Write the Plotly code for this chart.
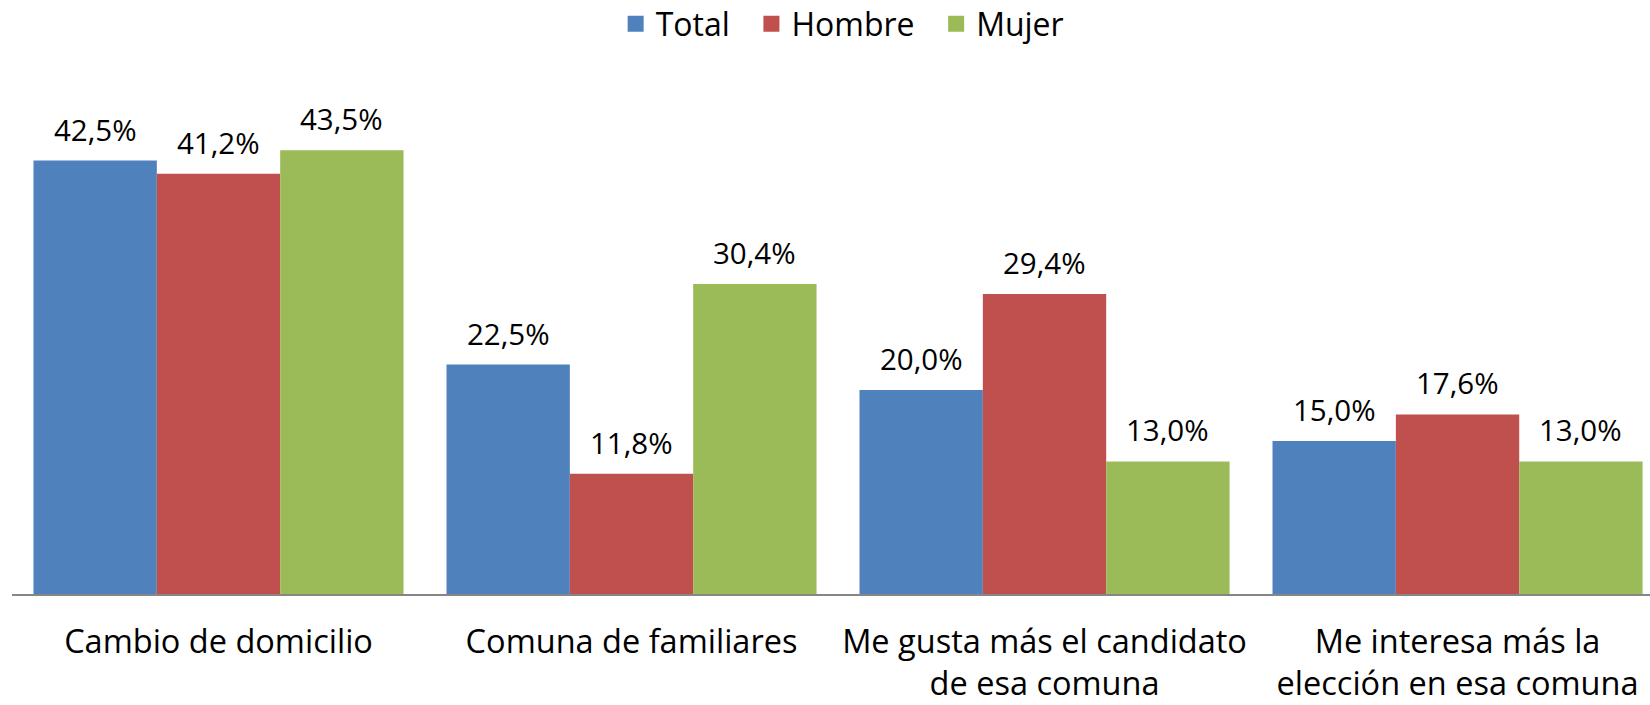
import plotly.graph_objects as go

categories = ["Cambio de domicilio", "Comuna de familiares",
              "Me gusta más el candidato<br>de esa comuna",
              "Me interesa más la<br>elección en esa comuna"]
series_names = ["Total", "Hombre", "Mujer"]
total = [42.5, 22.5, 20.0, 15.0]
hombre = [41.2, 11.8, 29.4, 17.6]
mujer = [43.5, 30.4, 13.0, 13.0]
colors = ["#4F81BD", "#C0504D", "#9BBB59"]

values = [total, hombre, mujer]
FONT = "Open Sans"
bargap = 0.104
bw = (1 - bargap) / 3

fig = go.Figure()
xs = list(range(len(categories)))
for name, vals, col in zip(series_names, values, colors):
    fig.add_trace(go.Bar(x=xs, y=vals, name=name, marker=dict(color=col, line=dict(width=0)),
                         showlegend=False))
for name, col in zip(series_names, colors):
    fig.add_trace(go.Scatter(x=[None], y=[None], mode="markers", name=name + "\u00a0\u00a0",
                             marker=dict(symbol="square", size=20, color=col)))

annotations = []
for i, vals in enumerate(values):
    off = (i - 1) * bw
    for j, v in enumerate(vals):
        annotations.append(dict(x=j + off, y=v, xref="x", yref="y",
                                text=f"{v:.1f}%".replace(".", ","),
                                showarrow=False, yanchor="bottom", yshift=9,
                                font=dict(family=FONT, size=29.5, color="#000")))

fig.update_layout(
    width=1650, height=705,
    margin=dict(l=12, r=0, t=84, b=111, autoexpand=False),
    paper_bgcolor="white", plot_bgcolor="white",
    barmode="group", bargap=bargap, bargroupgap=0,
    font=dict(family=FONT, color="#000"),
    legend=dict(orientation="h", x=0.512, xanchor="center", y=1.1176, yref="paper",
                yanchor="middle", font=dict(family=FONT, size=32), itemsizing="trace",
                traceorder="normal", itemwidth=30),
    annotations=annotations,
    xaxis=dict(range=[-0.5, 3.466], tickmode="array", tickvals=xs, ticktext=categories,
               showline=True, linecolor="#868686", linewidth=2, showgrid=False,
               ticks="", tickfont=dict(family=FONT, size=32.5, color="#000"),
               ticklabelstandoff=18, zeroline=False, automargin=False),
    yaxis=dict(range=[0, 50], visible=False, showgrid=False, zeroline=False,
               automargin=False),
)

# remove the default 8px page margin so the figure fills the window exactly
fig.write_html("out.html", config={"displayModeBar": False},
               post_script="document.body.style.margin='0px';")
